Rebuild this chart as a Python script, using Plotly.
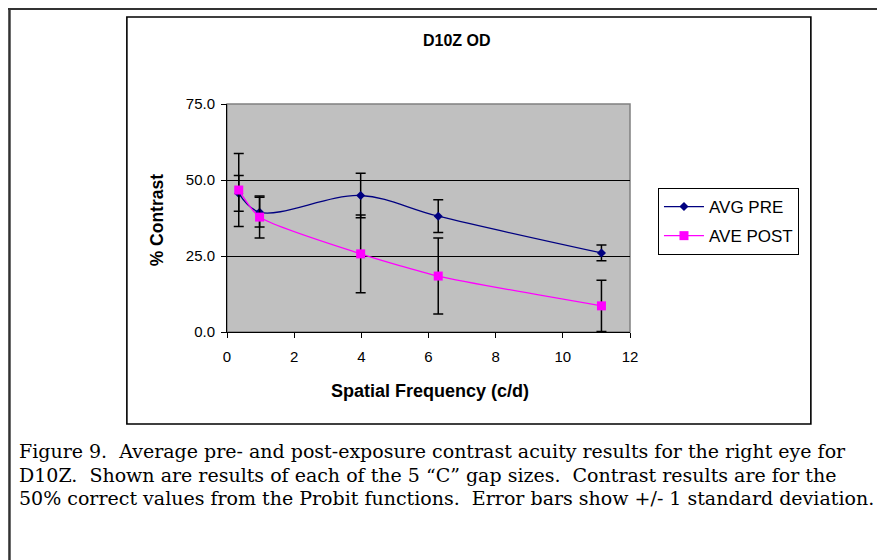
import plotly.graph_objects as go

# ---- data ----
freq = [0.35, 0.97, 3.98, 6.29, 11.15]
avg_pre = [45.6, 39.4, 44.9, 38.1, 26.0]
pre_sd = [5.85, 4.9, 7.3, 5.4, 2.6]
ave_post = [46.7, 37.8, 25.7, 18.4, 8.6]
post_sd = [12.0, 6.9, 12.75, 12.5, 8.4]
series_names = ["AVG PRE", "AVE POST"]
y_ticks = [0, 25, 50, 75]
x_ticks = [0, 2, 4, 6, 8, 10, 12]
title_text = "D10Z OD"
x_title = "Spatial Frequency (c/d)"
y_title = "% Contrast"
caption_lines = [
    "Figure 9.  Average pre- and post-exposure contrast acuity results for the right eye for",
    "D10Z.  Shown are results of each of the 5 \u201cC\u201d gap sizes.  Contrast results are for the",
    "50% correct values from the Probit functions.  Error bars show +/- 1 standard deviation.",
]

OFF = 8  # page body margin
W, H = 885 - OFF, 560 - OFF
# plot area in page coordinates
L, R, T, B = 226.7, 630.0, 104.0, 332.0
pw, ph = R - L, B - T

def px(x):
    return (x - L) / pw

def py(y):
    return (B - y) / ph

SANS = "Liberation Sans, Arial, sans-serif"
SERIF = "DejaVu Serif, Liberation Serif, serif"

fig = go.Figure()
fig.add_trace(go.Scatter(
    x=freq, y=avg_pre, name=series_names[0], mode="lines+markers",
    line=dict(color="#000080", width=1.3, shape="spline", smoothing=1),
    marker=dict(symbol="diamond", size=7, color="#000080"),
    error_y=dict(type="data", array=pre_sd, visible=True, color="black", thickness=1.5, width=5),
    legendgroup="a",
))
fig.add_trace(go.Scatter(
    x=freq, y=ave_post, name=series_names[1], mode="lines+markers",
    line=dict(color="#FF00FF", width=1.3, shape="spline", smoothing=0.6),
    marker=dict(symbol="square", size=9, color="#FF00FF"),
    error_y=dict(type="data", array=post_sd, visible=True, color="black", thickness=1.5, width=5),
    legendgroup="b",
))

shapes = []
# outer frame (top and left lines)
shapes.append(dict(type="line", xref="paper", yref="paper", x0=px(0), x1=px(885), y0=py(OFF + 0.5), y1=py(OFF + 0.5),
                   line=dict(color="#333333", width=3)))
shapes.append(dict(type="line", xref="paper", yref="paper", x0=px(OFF + 1), x1=px(OFF + 1), y0=py(OFF), y1=py(560),
                   line=dict(color="#333333", width=2.5)))
# chart box
shapes.append(dict(type="rect", xref="paper", yref="paper", x0=px(126.5), x1=px(811), y0=py(17), y1=py(424),
                   line=dict(color="black", width=1.6)))
# plot area border (grey)
shapes.append(dict(type="rect", xref="paper", yref="paper", x0=0, x1=1, y0=0, y1=1,
                   line=dict(color="#808080", width=1.5), layer="below"))

annotations = [
    dict(text="<b>%s</b>" % title_text, xref="paper", yref="paper", x=px(457), y=py(40),
         showarrow=False, font=dict(family=SANS, size=16, color="black"), xanchor="center", yanchor="middle"),
    dict(text="<b>%s</b>" % x_title, xref="paper", yref="paper", x=px(430), y=py(391),
         showarrow=False, font=dict(family=SANS, size=18, color="black"), xanchor="center", yanchor="middle"),
    dict(text="<b>%s</b>" % y_title, xref="paper", yref="paper", x=px(157), y=py(220), textangle=-90,
         showarrow=False, font=dict(family=SANS, size=17.5, color="black"), xanchor="center", yanchor="middle"),
]
for i, line in enumerate(caption_lines):
    annotations.append(dict(text=line, xref="paper", yref="paper", x=px(17), y=py(451 + 23.5 * i),
                            showarrow=False, font=dict(family=SERIF, size=19, color="black"),
                            xanchor="left", yanchor="middle"))

fig.update_layout(
    width=W, height=H,
    margin=dict(l=L - OFF, r=W - (R - OFF), t=T - OFF, b=H - (B - OFF), pad=0),
    paper_bgcolor="white",
    plot_bgcolor="#C0C0C0",
    showlegend=True,
    legend=dict(x=px(658), y=py(188), xanchor="left", yanchor="top",
                bordercolor="black", borderwidth=1, bgcolor="white",
                font=dict(family=SANS, size=17, color="black"),
                tracegroupgap=4, itemwidth=40, traceorder="grouped"),
    shapes=shapes,
    annotations=annotations,
    xaxis=dict(range=[0, 12], tickvals=x_ticks, ticks="outside", ticklen=5, tickcolor="black",
               showline=True, linecolor="black", linewidth=1, showgrid=False, zeroline=False,
               ticklabelstandoff=6,
               tickfont=dict(family=SANS, size=15, color="black"), fixedrange=True),
    yaxis=dict(range=[0, 75], tickvals=y_ticks, tickformat=".1f", ticks="outside", ticklen=5,
               tickcolor="black", showline=True, linecolor="black", linewidth=1,
               showgrid=True, gridcolor="black", gridwidth=1, zeroline=False,
               ticklabelstandoff=3,
               tickfont=dict(family=SANS, size=15, color="black"), fixedrange=True),
)

fig.write_html("out.html")
